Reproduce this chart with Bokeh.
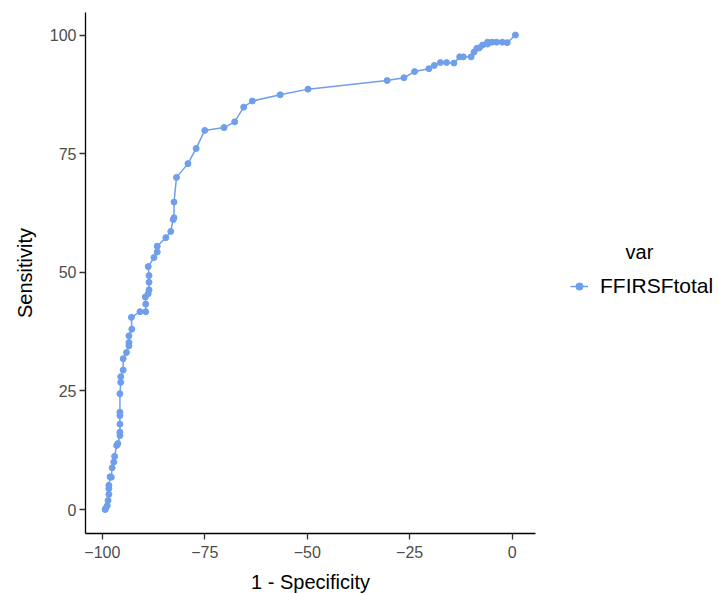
from bokeh.plotting import figure
from bokeh.models import Legend, LegendItem, Range1d, FixedTicker
from bokeh.embed import file_html
from bokeh.resources import INLINE

# 1 - Specificity (x) and Sensitivity (y)
fpr = [-99.3, -99.2, -98.8, -98.6, -98.4, -98.4, -98.4, -98.1, -97.8, -97.6,
       -97.2, -97.0, -96.5, -96.2, -95.7, -95.7, -95.7, -95.7, -95.7, -95.7,
       -95.5, -95.5, -94.9, -94.9, -94.1, -93.5, -93.5, -93.5, -92.8, -92.9,
       -90.8, -89.4, -89.4, -89.5, -88.8, -88.6, -88.6, -88.6, -88.8, -87.4,
       -86.6, -86.6, -84.5, -83.3, -82.7, -82.5, -82.5, -81.9, -79.1, -77.1,
       -75.0, -70.3, -67.7, -65.5, -63.4, -56.6, -49.8, -30.5, -26.4, -23.8,
       -20.3, -19.0, -17.5, -16.0, -14.2, -12.8, -11.9, -10.0, -9.3, -8.6,
       -8.0, -7.2, -6.0, -6.0, -4.9, -3.8, -2.4, -1.2, 0.8]
sens = [0.0, 0.2, 0.8, 1.9, 3.2, 4.4, 5.1, 6.9, 6.8, 8.8,
        10.0, 11.2, 13.5, 13.9, 15.6, 16.3, 18.0, 19.8, 20.5, 24.4,
        26.8, 28.0, 29.4, 31.8, 33.1, 34.5, 35.2, 36.6, 38.0, 40.5,
        41.7, 41.7, 43.3, 44.8, 45.5, 46.3, 47.9, 49.3, 51.2, 53.1,
        54.3, 55.5, 57.3, 58.6, 61.1, 61.5, 64.8, 70.0, 72.9, 76.1,
        79.9, 80.5, 81.7, 84.8, 86.1, 87.4, 88.6, 90.4, 91.0, 92.3,
        92.9, 93.6, 94.2, 94.2, 94.1, 95.4, 95.4, 95.4, 96.4, 97.2,
        97.3, 97.9, 98.1, 98.5, 98.5, 98.5, 98.5, 98.4, 100.0]
series_name = "FFIRSFtotal"
legend_title = "var"
x_ticks = [-100, -75, -50, -25, 0]
y_ticks = [0, 25, 50, 75, 100]

COLOR = "#6F9FEC"
FONT = "Liberation Sans"

p = figure(frame_width=450, frame_height=521, output_backend="svg",
           toolbar_location=None,
           x_range=Range1d(-104.1, 5.7), y_range=Range1d(-5.05, 104.75),
           min_border_left=85, min_border_top=12, min_border_bottom=61,
           min_border_right=183)
p.background_fill_color = "white"
p.border_fill_color = "white"
p.outline_line_color = None
p.xgrid.grid_line_color = None
p.ygrid.grid_line_color = None

r_line = p.line(fpr, sens, line_color=COLOR, line_width=1.5)
r_pts = p.scatter(fpr, sens, size=6, fill_color=COLOR, line_color=COLOR)

for ax in (p.xaxis[0], p.yaxis[0]):
    ax.axis_line_color = "black"
    ax.axis_line_width = 1.3
    ax.major_tick_line_color = "#333333"
    ax.major_tick_line_width = 1.3
    ax.major_tick_out = 6
    ax.major_tick_in = 0
    ax.minor_tick_line_color = None
    ax.major_label_text_font = FONT
    ax.major_label_text_font_size = "16px"
    ax.major_label_text_color = "#4D4D4D"
    ax.axis_label_text_font = FONT
    ax.axis_label_text_font_size = "20px"
    ax.axis_label_text_font_style = "normal"
    ax.axis_label_text_color = "black"

p.xaxis.ticker = FixedTicker(ticks=x_ticks)
p.yaxis.ticker = FixedTicker(ticks=y_ticks)
p.xaxis.axis_label = "1 - Specificity"
p.yaxis.axis_label = "Sensitivity"
p.xaxis.major_label_standoff = 6
p.xaxis.axis_label_standoff = 10
p.yaxis.major_label_standoff = 3
p.yaxis.axis_label_standoff = 11

# legend title centred over the key + label (offset with no-break spaces)
legend = Legend(items=[LegendItem(label=series_name, renderers=[r_line, r_pts])],
                title="\u00a0" * 10 + legend_title, title_text_align="left",
                title_standoff=10,
                title_text_font=FONT, title_text_font_size="20px",
                title_text_font_style="normal", title_text_color="black",
                location=(35, 235), padding=0, margin=0, spacing=0,
                glyph_width=18, glyph_height=20, label_standoff=12,
                border_line_color=None, background_fill_alpha=0,
                label_text_font=FONT, label_text_font_size="21px",
                label_text_color="black")
p.add_layout(legend, "right")

open("out.html", "w").write(file_html(p, INLINE))
